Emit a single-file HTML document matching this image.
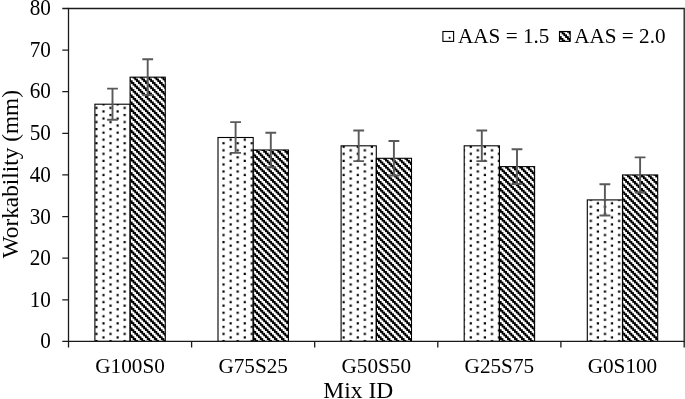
<!DOCTYPE html><html><head><meta charset="utf-8"><style>
html,body{margin:0;padding:0;background:#fff;}
svg{display:block;will-change:transform;}
text{font-family:"Liberation Serif",serif;fill:#000;}
</style></head><body>
<svg width="685" height="399" viewBox="0 0 685 399">
<defs>
<pattern id="dots" patternUnits="userSpaceOnUse" x="101.7341" y="258.0171" width="14.1260" height="14.1260"><rect x="0.6657" y="0.6657" width="2.2000" height="2.2000"/><rect x="7.7287" y="4.1972" width="2.2000" height="2.2000"/><rect x="0.6657" y="7.7287" width="2.2000" height="2.2000"/><rect x="7.7287" y="11.2602" width="2.2000" height="2.2000"/></pattern>
<pattern id="hatch" patternUnits="userSpaceOnUse" x="0.1700" y="0.8600" width="7.0630" height="7.0630"><rect x="0.0000" y="0.0000" width="1.7677" height="1.7677"/><rect x="1.7657" y="0.0000" width="1.7677" height="1.7677"/><rect x="1.7657" y="1.7657" width="1.7677" height="1.7677"/><rect x="3.5315" y="1.7657" width="1.7677" height="1.7677"/><rect x="3.5315" y="3.5315" width="1.7677" height="1.7677"/><rect x="5.2973" y="3.5315" width="1.7677" height="1.7677"/><rect x="5.2973" y="5.2973" width="1.7677" height="1.7677"/><rect x="0.0000" y="5.2973" width="1.7677" height="1.7677"/></pattern>
</defs>
<rect width="685" height="399" fill="#fff"/>

<rect x="94.90" y="104.21" width="35.20" height="237.19" fill="url(#dots)" stroke="#000" stroke-width="1.1"/>
<rect x="130.10" y="77.16" width="35.20" height="264.24" fill="url(#hatch)" stroke="#000" stroke-width="1.1"/>
<rect x="218.00" y="137.50" width="35.20" height="203.90" fill="url(#dots)" stroke="#000" stroke-width="1.1"/>
<rect x="253.20" y="149.98" width="35.20" height="191.42" fill="url(#hatch)" stroke="#000" stroke-width="1.1"/>
<rect x="341.10" y="145.82" width="35.20" height="195.58" fill="url(#dots)" stroke="#000" stroke-width="1.1"/>
<rect x="376.30" y="158.30" width="35.20" height="183.09" fill="url(#hatch)" stroke="#000" stroke-width="1.1"/>
<rect x="464.20" y="145.82" width="35.20" height="195.58" fill="url(#dots)" stroke="#000" stroke-width="1.1"/>
<rect x="499.40" y="166.63" width="35.20" height="174.77" fill="url(#hatch)" stroke="#000" stroke-width="1.1"/>
<rect x="587.30" y="199.92" width="35.20" height="141.48" fill="url(#dots)" stroke="#000" stroke-width="1.1"/>
<rect x="622.50" y="174.95" width="35.20" height="166.45" fill="url(#hatch)" stroke="#000" stroke-width="1.1"/>
<path d="M112.50 88.66V119.76M107.10 88.66H117.90M107.10 119.76H117.90" stroke="#595959" stroke-width="1.9" fill="none"/>
<path d="M147.70 59.31V95.01M142.30 59.31H153.10M142.30 95.01H153.10" stroke="#595959" stroke-width="1.9" fill="none"/>
<path d="M235.60 122.15V152.85M230.20 122.15H241.00M230.20 152.85H241.00" stroke="#595959" stroke-width="1.9" fill="none"/>
<path d="M270.80 132.68V167.28M265.40 132.68H276.20M265.40 167.28H276.20" stroke="#595959" stroke-width="1.9" fill="none"/>
<path d="M358.70 130.52V161.12M353.30 130.52H364.10M353.30 161.12H364.10" stroke="#595959" stroke-width="1.9" fill="none"/>
<path d="M393.90 141.05V175.55M388.50 141.05H399.30M388.50 175.55H399.30" stroke="#595959" stroke-width="1.9" fill="none"/>
<path d="M481.80 130.52V161.12M476.40 130.52H487.20M476.40 161.12H487.20" stroke="#595959" stroke-width="1.9" fill="none"/>
<path d="M517.00 149.28V183.98M511.60 149.28H522.40M511.60 183.98H522.40" stroke="#595959" stroke-width="1.9" fill="none"/>
<path d="M604.90 184.27V215.57M599.50 184.27H610.30M599.50 215.57H610.30" stroke="#595959" stroke-width="1.9" fill="none"/>
<path d="M640.10 157.40V192.50M634.70 157.40H645.50M634.70 192.50H645.50" stroke="#595959" stroke-width="1.9" fill="none"/>
<path d="M68.5 8.5H684.2V341.4H68.5Z" fill="none" stroke="#1a1a1a" stroke-width="1.3"/>
<path d="M62.30 341.40H68.5M62.30 299.79H68.5M62.30 258.17H68.5M62.30 216.56H68.5M62.30 174.95H68.5M62.30 133.34H68.5M62.30 91.72H68.5M62.30 50.11H68.5M62.30 8.50H68.5M68.50 341.4V347.50M191.60 341.4V347.50M314.70 341.4V347.50M437.80 341.4V347.50M560.90 341.4V347.50M684.20 341.4V347.50" stroke="#1a1a1a" stroke-width="1.3" fill="none"/>
<text transform="translate(50.9 348.40) scale(1 1.07)" font-size="21.2" text-anchor="end">0</text>
<text transform="translate(50.9 306.79) scale(1 1.07)" font-size="21.2" text-anchor="end">10</text>
<text transform="translate(50.9 265.17) scale(1 1.07)" font-size="21.2" text-anchor="end">20</text>
<text transform="translate(50.9 223.56) scale(1 1.07)" font-size="21.2" text-anchor="end">30</text>
<text transform="translate(50.9 181.95) scale(1 1.07)" font-size="21.2" text-anchor="end">40</text>
<text transform="translate(50.9 140.34) scale(1 1.07)" font-size="21.2" text-anchor="end">50</text>
<text transform="translate(50.9 98.42) scale(1 1.07)" font-size="21.2" text-anchor="end">60</text>
<text transform="translate(50.9 57.11) scale(1 1.07)" font-size="21.2" text-anchor="end">70</text>
<text transform="translate(50.9 14.60) scale(1 1.07)" font-size="21.2" text-anchor="end">80</text>
<text transform="translate(130.05 372.65) scale(1 1.03)" font-size="21.2" text-anchor="middle">G100S0</text>
<text transform="translate(253.15 372.65) scale(1 1.03)" font-size="21.2" text-anchor="middle">G75S25</text>
<text transform="translate(376.25 372.65) scale(1 1.03)" font-size="21.2" text-anchor="middle">G50S50</text>
<text transform="translate(499.35 372.65) scale(1 1.03)" font-size="21.2" text-anchor="middle">G25S75</text>
<text transform="translate(622.45 372.65) scale(1 1.03)" font-size="21.2" text-anchor="middle">G0S100</text>
<text x="358.3" y="397.8" font-size="23.5" text-anchor="middle" letter-spacing="0">Mix ID</text>
<text transform="translate(17.6 174.2) rotate(-90)" x="0" y="0" font-size="23.3" text-anchor="middle" letter-spacing="0">Workability (mm)</text>
<rect x="442.9" y="31.5" width="10.7" height="9.9" fill="#fff" stroke="#000" stroke-width="1.1"/>
<circle cx="449.6" cy="37.8" r="1.05" fill="#000"/>
<text transform="translate(458.0 42.9) scale(1 1.015)" font-size="21.2">AAS = 1.5</text>
<rect x="559.5" y="31.5" width="10.7" height="9.9" fill="url(#hatch)" stroke="#000" stroke-width="1.1"/>
<text transform="translate(574.2 42.9) scale(1 1.015)" font-size="21.2">AAS = 2.0</text>
</svg></body></html>
